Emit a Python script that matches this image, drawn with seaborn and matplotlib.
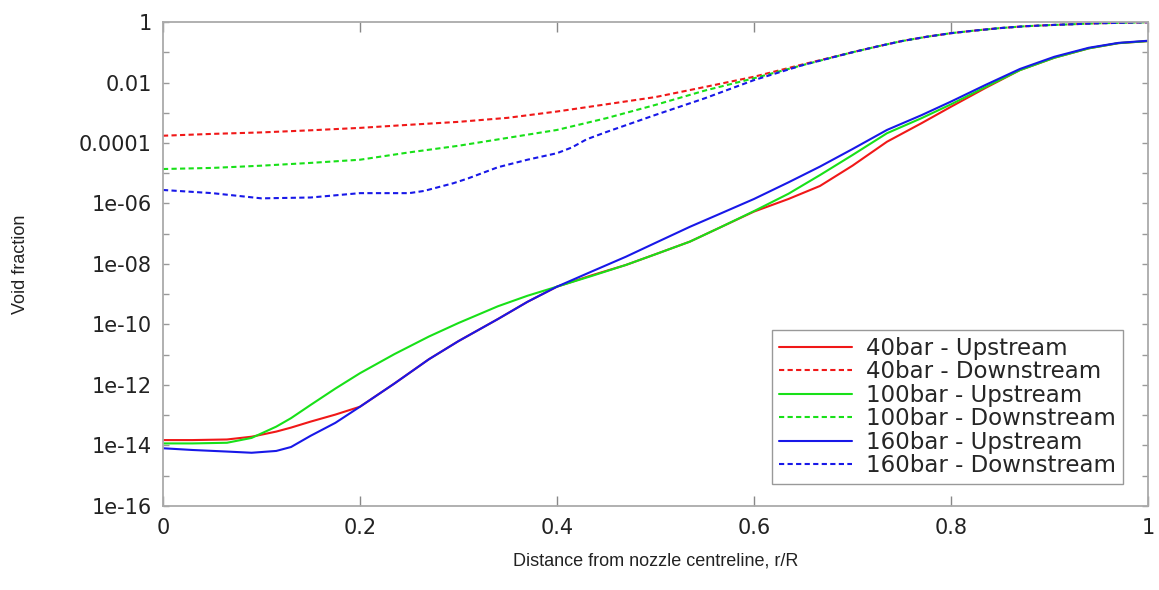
import matplotlib
matplotlib.use("Agg")
import matplotlib.pyplot as plt
import matplotlib.ticker as mticker
import seaborn as sns

# Void fraction vs r/R
r_up = [0.0, 0.03, 0.065, 0.09, 0.115, 0.13, 0.15, 0.175, 0.2, 0.235, 0.27, 0.3,
        0.34, 0.37, 0.4, 0.435, 0.47, 0.5, 0.535, 0.565, 0.6, 0.635, 0.667, 0.7,
        0.735, 0.77, 0.8, 0.835, 0.87, 0.905, 0.94, 0.97, 1.0]

up_40 = [1.51e-14, 1.51e-14, 1.58e-14, 1.95e-14, 2.88e-14, 3.9e-14, 6.17e-14, 1.05e-13,
         1.91e-13, 1.12e-12, 7.1e-12, 2.82e-11, 1.51e-10, 5.6e-10, 1.78e-9, 4.2e-9,
         9.3e-9, 2.1e-8, 5.5e-8, 1.58e-7, 5.4e-7, 1.41e-6, 3.8e-6, 1.78e-5,
         1.1e-4, 4.5e-4, 1.58e-3, 6.6e-3, 2.57e-2, 6.6e-2, 0.135, 0.2, 0.234]
up_100 = [1.17e-14, 1.17e-14, 1.23e-14, 1.78e-14, 4.2e-14, 8.0e-14, 2.2e-13, 7.6e-13,
          2.45e-12, 1.05e-11, 4.0e-11, 1.12e-10, 4.0e-10, 8.9e-10, 1.78e-9, 4.0e-9,
          9.3e-9, 2.1e-8, 5.5e-8, 1.58e-7, 5.6e-7, 2.1e-6, 8.7e-6, 4.0e-5,
          2.1e-4, 6.6e-4, 1.9e-3, 7.1e-3, 2.57e-2, 6.6e-2, 0.135, 0.2, 0.234]
up_160 = [8.1e-15, 7.1e-15, 6.3e-15, 5.75e-15, 6.6e-15, 8.9e-15, 2.1e-14, 5.6e-14,
          1.91e-13, 1.12e-12, 7.1e-12, 2.82e-11, 1.51e-10, 5.6e-10, 1.78e-9, 5.6e-9,
          1.74e-8, 5.0e-8, 1.7e-7, 4.5e-7, 1.41e-6, 5.0e-6, 1.66e-5, 6.3e-5,
          2.7e-4, 8.3e-4, 2.34e-3, 8.3e-3, 2.8e-2, 7.1e-2, 0.141, 0.204, 0.24]

r_down = [0.0, 0.05, 0.1, 0.15, 0.2, 0.25, 0.3, 0.35, 0.4, 0.45, 0.5, 0.55, 0.6,
          0.65, 0.7, 0.725, 0.75, 0.775, 0.8, 0.825, 0.85, 0.875, 0.9, 0.95, 1.0]
down_40 = [1.74e-4, 2.0e-4, 2.24e-4, 2.63e-4, 3.16e-4, 4.0e-4, 5.0e-4, 6.8e-4,
           1.1e-3, 1.9e-3, 3.3e-3, 7.1e-3, 1.55e-2, 4.0e-2, 0.1, 0.155, 0.234,
           0.324, 0.427, 0.525, 0.63, 0.724, 0.79, 0.91, 0.98]
down_100 = [1.38e-5, 1.5e-5, 1.78e-5, 2.2e-5, 2.8e-5, 4.9e-5, 8.1e-5, 1.48e-4,
            2.7e-4, 6.6e-4, 1.82e-3, 5.4e-3, 1.38e-2, 3.8e-2, 0.1, 0.155, 0.234,
            0.324, 0.427, 0.525, 0.63, 0.724, 0.79, 0.91, 0.98]

# 160bar downstream is jagged, so it gets finer x points
r_down_160 = [0.0, 0.05, 0.1, 0.15, 0.2, 0.25, 0.265, 0.295, 0.31, 0.34, 0.37,
              0.4, 0.415, 0.43, 0.45, 0.5, 0.55, 0.6, 0.65, 0.7, 0.725, 0.75,
              0.775, 0.8, 0.825, 0.85, 0.875, 0.9, 0.95, 1.0]
down_160 = [2.8e-6, 2.2e-6, 1.48e-6, 1.58e-6, 2.2e-6, 2.2e-6, 2.6e-6, 4.7e-6,
            6.8e-6, 1.58e-5, 2.8e-5, 4.6e-5, 7.1e-5, 1.32e-4, 2.3e-4, 8.5e-4,
            3.0e-3, 1.2e-2, 3.8e-2, 0.1, 0.155, 0.234, 0.324, 0.427, 0.525,
            0.63, 0.724, 0.79, 0.91, 0.98]

red, green, blue = "#f01818", "#18e018", "#1818e8"
dash = (0, (2.5, 1.6))

sns.set_style("ticks")
plt.rcParams["font.family"] = ["DejaVu Sans"]

fig = plt.figure(figsize=(11.59, 5.90), dpi=100)
ax = fig.add_axes([0.1406, 0.1424, 0.8499, 0.8203])

series = [
    (r_up, up_40, "40bar - Upstream", red, "-"),
    (r_down, down_40, "40bar - Downstream", red, dash),
    (r_up, up_100, "100bar - Upstream", green, "-"),
    (r_down, down_100, "100bar - Downstream", green, dash),
    (r_up, up_160, "160bar - Upstream", blue, "-"),
    (r_down_160, down_160, "160bar - Downstream", blue, dash),
]
for xs, ys, name, col, ls in series:
    sns.lineplot(x=xs, y=ys, ax=ax, color=col, linestyle=ls, linewidth=1.5, label=name)

ax.set_yscale("log")
ax.set_xlim(0, 1)
ax.set_ylim(1e-16, 1)

ax.xaxis.set_major_locator(mticker.MultipleLocator(0.2))
ax.xaxis.set_major_formatter(mticker.FuncFormatter(lambda v, p: "%g" % round(v, 2)))
ax.yaxis.set_major_locator(mticker.FixedLocator([10.0 ** -k for k in range(0, 17, 2)]))
ax.yaxis.set_minor_locator(mticker.FixedLocator([10.0 ** -k for k in range(1, 17, 2)]))
ax.yaxis.set_major_formatter(mticker.FuncFormatter(lambda v, p: "%g" % v))
ax.yaxis.set_minor_formatter(mticker.NullFormatter())

ax.tick_params(axis="x", which="major", direction="in", length=7, width=1,
               color="#888888", top=True, bottom=True, labelsize=15, pad=9,
               labelcolor="#222222")
ax.tick_params(axis="y", which="both", direction="in", length=4, width=1,
               color="#999999", left=True, right=True, labelsize=15, pad=8,
               labelcolor="#222222")

for s in ax.spines.values():
    s.set_color("#aaaaaa")
    s.set_linewidth(1.3)

ax.set_xlabel("Distance from nozzle centreline, r/R", fontsize=13,
              family="Liberation Sans", labelpad=10, color="#222222")
ax.set_ylabel("Void fraction", fontsize=13, family="Liberation Sans",
              labelpad=36, color="#222222")

leg = ax.legend(loc="lower right", bbox_to_anchor=(0.986, 0.022), fontsize=16.5,
                handlelength=3.2, handletextpad=0.6, labelspacing=0.02,
                borderpad=0.3, frameon=True, fancybox=False, framealpha=1)
leg.get_frame().set_edgecolor("#999999")
leg.get_frame().set_linewidth(1.0)

plt.savefig("out.png", dpi=100)
